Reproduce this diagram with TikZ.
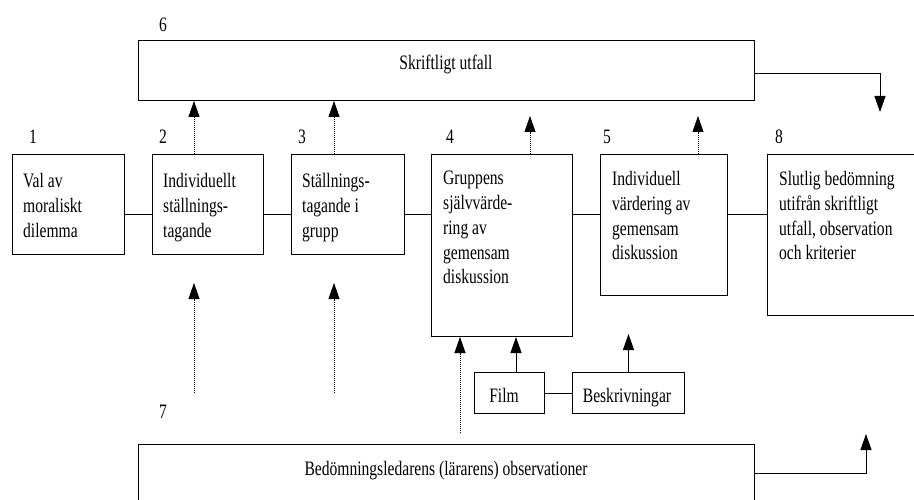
\documentclass[tikz,border=0pt]{standalone}
\usepackage{fontspec}
\setmainfont[FakeStretch=0.76]{Liberation Serif}
\usetikzlibrary{positioning,arrows.meta}

\begin{document}
\begin{tikzpicture}[x=1pt,y=-1pt,
  box/.style={draw, line width=1pt, inner sep=0pt, anchor=north west},
  txt/.style={anchor=north west, inner sep=0pt, align=left, font=\fontsize{20.5}{24.8}\selectfont},
  lbl/.style={inner sep=0pt, anchor=base, font=\fontsize{20.5}{24}\selectfont},
  link/.style={line width=1pt},
  obsarrow/.style={line width=0.8pt, dash pattern=on 1pt off 1pt, -{Triangle[length=16pt,width=11pt]}},
  feed/.style={line width=1pt, -{Triangle[length=16pt,width=11pt]}}]
\useasboundingbox (0,0) rectangle (914,500);
\clip (0,0) rectangle (914,500);

\def\ytop{154}

\coordinate (row) at (0,215);
\coordinate (c2) at (194,0);
\coordinate (c3) at (334,0);
\coordinate (c4) at (530,0);
\coordinate (c5) at (698,0);
\coordinate (c6) at (460,0);
\coordinate (c7) at (516,0);
\coordinate (endup) at (880,112);
\coordinate (enddown) at (866,434);

\node[box, minimum width=616pt, minimum height=60pt] (utfall) at (138,40) {};
\node[lbl] (utfalltxt) at (446,70) {Skriftligt utfall};

\node[box, minimum width=112pt, minimum height=100pt] (val) at (12,\ytop) {};
\node[box, minimum width=111pt, minimum height=100pt] (indiv) at (152,\ytop) {};
\node[box, minimum width=113pt, minimum height=100pt] (grupp) at (291,\ytop) {};
\node[box, minimum width=141pt, minimum height=182pt] (sjalv) at (431,\ytop) {};
\node[box, minimum width=127pt, minimum height=141pt] (indv) at (600,\ytop) {};
\node[box, minimum width=180pt, minimum height=161pt] (slut) at (767,\ytop) {};

\node[txt] (valtxt) at (23,173) {Val av\\moraliskt\\dilemma};
\node[txt] (indivtxt) at (163,173) {Individuellt\\ställnings-\\tagande};
\node[txt] (grupptxt) at (302,173) {Ställnings-\\tagande i\\grupp};
\node[txt] (sjalvtxt) at (443,171) {Gruppens\\självvärde-\\ring av\\gemensam\\diskussion};
\node[txt] (indvtxt) at (612,171) {Individuell\\värdering av\\gemensam\\diskussion};
\node[txt] (sluttxt) at (779,171) {Slutlig bedömning\\utifrån skriftligt\\utfall, observation\\och kriterier};

\node[lbl] (n1) at (33,144) {1};
\node[lbl] (n2) at (163,144) {2};
\node[lbl] (n3) at (302,144) {3};
\node[lbl] (n4) at (450,144) {4};
\node[lbl] (n5) at (607,144) {5};
\node[lbl] (n8) at (779,144) {8};
\node[lbl] (n6) at (163,32) {6};
\node[lbl] (n7) at (163,418) {7};

\node[box, minimum width=70pt, minimum height=41pt] (film) at (474,372) {};
\node[box, minimum width=112pt, minimum height=41pt] (beskr) at (572,372) {};
\node[lbl] (filmtxt) at (504,402) {Film};
\node[lbl] (beskrtxt) at (627,402) {Beskrivningar};

\node[box, minimum width=616pt, minimum height=80pt] (obs) at (138,444) {};
\node[lbl] (obstxt) at (446,475) {Bedömningsledarens (lärarens) observationer};

\draw[link] (val.east |- row) -- (indiv.west |- row);
\draw[link] (indiv.east |- row) -- (grupp.west |- row);
\draw[link] (grupp.east |- row) -- (sjalv.west |- row);
\draw[link] (sjalv.east |- row) -- (indv.west |- row);
\draw[link] (indv.east |- row) -- (slut.west |- row);
\draw[link] (film.east) -- (beskr.west);

\draw[obsarrow] (c2 |- indiv.north) -- (c2 |- utfall.south);
\draw[obsarrow] (c3 |- grupp.north) -- (c3 |- utfall.south);
\draw[obsarrow] (c4 |- sjalv.north) -- ([yshift=-15pt]c4 |- utfall.south);
\draw[obsarrow] (c5 |- indv.north) -- ([yshift=-15pt]c5 |- utfall.south);

\draw[obsarrow] ([yshift=51pt]c2 |- obs.north) -- ([yshift=-28pt]c2 |- indiv.south);
\draw[obsarrow] ([yshift=51pt]c3 |- obs.north) -- ([yshift=-28pt]c3 |- grupp.south);
\draw[obsarrow] ([yshift=11pt]c6 |- obs.north) -- (c6 |- sjalv.south);

\draw[feed] (c7 |- film.north) -- (c7 |- sjalv.south);
\draw[feed] (beskr.north) -- ([yshift=3pt]beskr.north |- sjalv.south);

\draw[feed] ([yshift=-3pt]utfall.east) -| (endup);
\draw[feed] ([yshift=-29pt]obs.north east) -| (enddown);

\end{tikzpicture}
\end{document}
